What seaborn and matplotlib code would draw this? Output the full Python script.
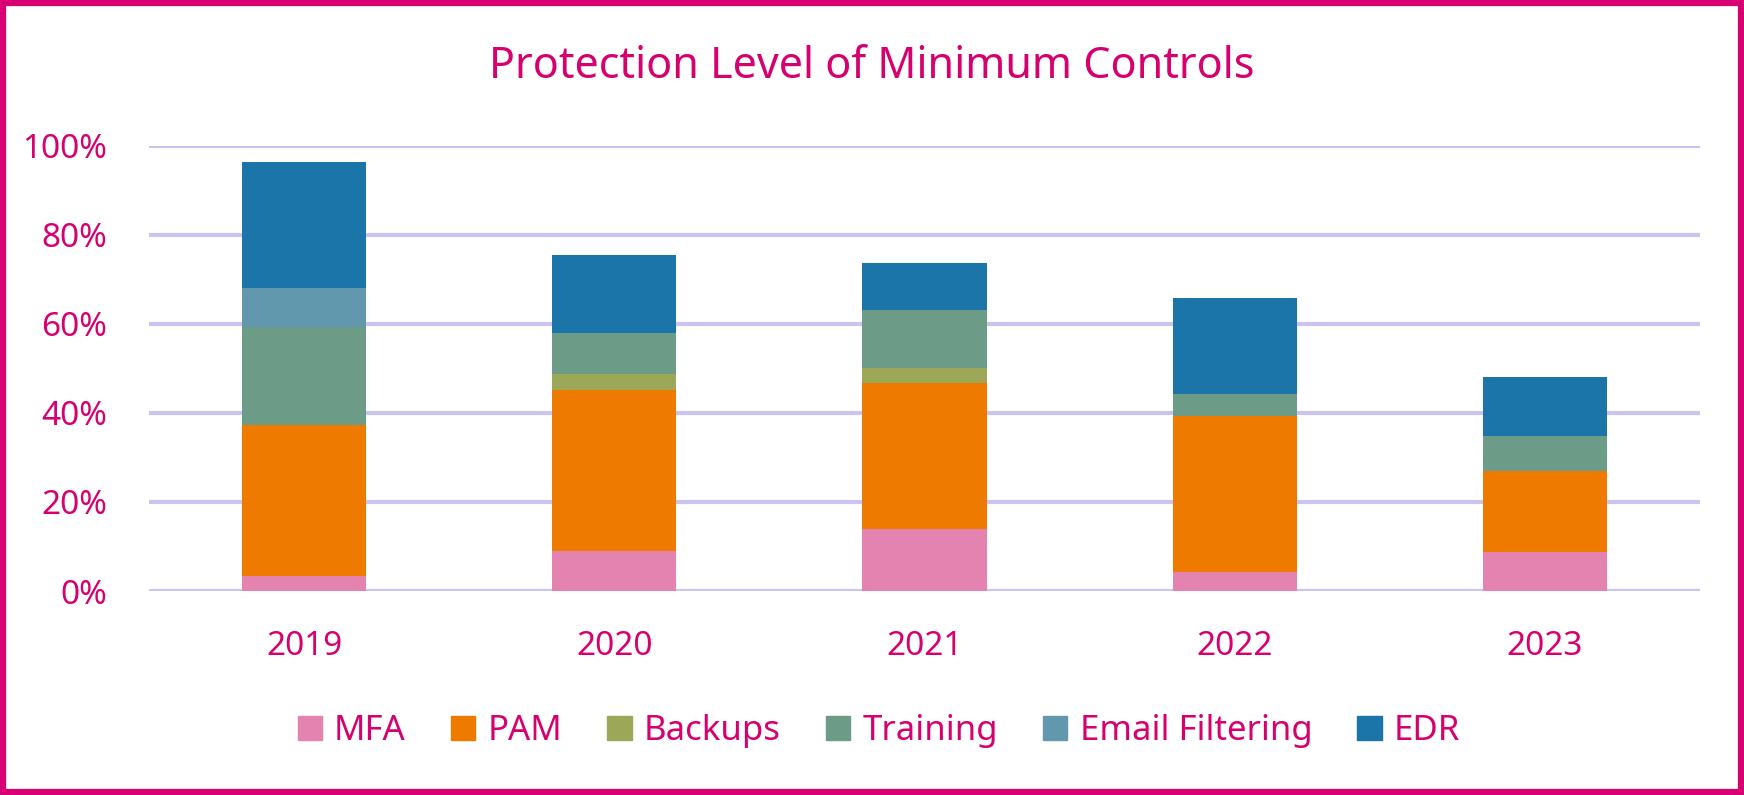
import matplotlib
matplotlib.use("Agg")
import matplotlib.pyplot as plt
import matplotlib.patches as mpatches
import numpy as np
import pandas as pd
import seaborn as sns

years = ["2019", "2020", "2021", "2022", "2023"]
mfa = [3.4, 9.1, 13.9, 4.3, 8.7]
pam = [34.0, 36.1, 32.9, 35.0, 18.2]
backups = [0.0, 3.5, 3.3, 0.0, 0.0]
training = [21.9, 9.3, 13.1, 5.0, 8.0]
email_filtering = [8.7, 0.0, 0.0, 0.0, 0.0]
edr = [28.3, 17.6, 10.5, 21.6, 13.1]

series_names = ["MFA", "PAM", "Backups", "Training", "Email Filtering", "EDR"]
series_values = [mfa, pam, backups, training, email_filtering, edr]
colors = ["#E482B0", "#EE7B00", "#9CA857", "#6C9C88", "#6198AE", "#1C75A8"]

TEXT = "#D6006F"
GRID = "#CBC3F0"

sns.set_theme(style="white")
plt.rcParams["font.family"] = ["Noto Sans", "DejaVu Sans"]

fig = plt.figure(figsize=(17.44, 7.95), dpi=100)
ax = fig.add_axes([0.0854, 0.2566, 0.8894, 0.5598])

rows = []
for name, vals in zip(series_names, series_values):
    for y, v in zip(years, vals):
        rows.append({"Year": y, "Series": name, "Value": v / 100.0})
df = pd.DataFrame(rows)

bottom = np.zeros(len(years))
for name, col in zip(series_names, colors):
    sub = df[df["Series"] == name]
    sns.barplot(data=sub, x="Year", y="Value", order=years, color=col,
                width=0.4, bottom=bottom.copy(), linewidth=0, ax=ax,
                errorbar=None, zorder=3, saturation=1)
    bottom = bottom + sub["Value"].to_numpy()

ax.set_ylim(0, 1.0)
ax.set_xlim(-0.5, 4.5)
ax.set_yticks(np.arange(0, 1.01, 0.2))
ax.set_yticklabels([f"{int(round(t*100))}%" for t in np.arange(0, 1.01, 0.2)])
ax.yaxis.grid(True, color=GRID, linewidth=3.0, zorder=0)
ax.set_axisbelow(True)
for s in ax.spines.values():
    s.set_visible(False)
ax.set_xlabel("")
ax.set_ylabel("")
ax.tick_params(axis="y", length=0, pad=30, labelsize=24, labelcolor=TEXT)
ax.tick_params(axis="x", length=0, pad=28, labelsize=24, labelcolor=TEXT)

fig.suptitle("Protection Level of Minimum Controls", x=0.5, y=0.916,
             color=TEXT, fontsize=31, va="center")

handles = [mpatches.Patch(color=c, label=n) for n, c in zip(series_names, colors)]
leg = fig.legend(handles=handles, loc="center", bbox_to_anchor=(0.504, 0.08),
                 ncol=6, frameon=False, fontsize=25, handlelength=0.7,
                 handleheight=0.7, handletextpad=0.35, columnspacing=1.3)
for t in leg.get_texts():
    t.set_color(TEXT)

border = mpatches.Rectangle((0.0017, 0.0038), 0.9966, 0.9924, transform=fig.transFigure,
                            fill=False, edgecolor="#D80073", linewidth=4.5)
fig.patches.append(border)

fig.savefig("out.png", dpi=100, facecolor="white")
